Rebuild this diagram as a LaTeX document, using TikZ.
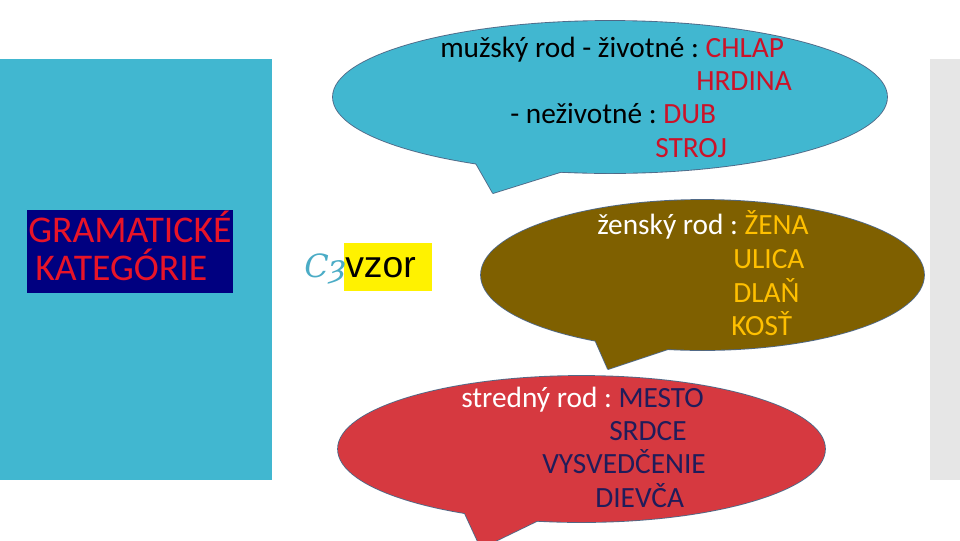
\documentclass[tikz,border=0pt]{standalone}
\usepackage{fontspec}
\setmainfont{Carlito}
\newfontfamily\arialfont{Liberation Sans}
\newfontfamily\bulletfont{DejaVu Serif}
\definecolor{slidecyan}{RGB}{65,183,208}
\definecolor{stripgray}{RGB}{230,230,230}
\definecolor{boxnavy}{RGB}{0,0,128}
\definecolor{titlered}{RGB}{232,20,40}
\definecolor{wordred}{RGB}{204,18,40}
\definecolor{bubblebrown}{RGB}{127,96,0}
\definecolor{wordgold}{RGB}{255,192,0}
\definecolor{bubblered}{RGB}{214,57,64}
\definecolor{wordnavy}{RGB}{32,28,90}
\definecolor{edgeblue}{RGB}{80,105,135}
\definecolor{bulletcyan}{RGB}{75,172,198}
\tikzset{
  bubbleline/.style={draw=edgeblue, line width=1.3pt, line join=round},
  txt/.style={inner sep=0pt, anchor=base west, font=\fontsize{22}{26}\selectfont},
  bigtxt/.style={inner sep=0pt, anchor=base west, font=\fontsize{28.3}{32}\selectfont, text=titlered},
}
\newcommand{\mycallout}[7]{%
  \draw[bubbleline] (#1) ellipse [x radius=#2, y radius=#3];
  \draw[bubbleline] (#4) -- (#5) -- (#6);
  \fill[#7] (#1) ellipse [x radius=#2, y radius=#3];
  \fill[#7] (#4) -- (#5) -- (#6) -- cycle;
}
\begin{document}
\frenchspacing
\begin{tikzpicture}[x=0.75pt,y=-0.75pt]
\useasboundingbox (0,0) rectangle (960,540);
\clip (0,0) rectangle (960,540);
% background panels
\fill[slidecyan] (0,59) rectangle (272,480);
\fill[stripgray] (930,59) rectangle (960,480);
% title box
\fill[boxnavy] (27,210) rectangle (233,293);
\node[bigtxt] (t1) at (28,242) {GRAMATICKÉ};
\node[bigtxt] (t2) at (35,280) {KATEGÓRIE};
% vzor
\fill[yellow] (344,243) rectangle (432,291);
\node[inner sep=0pt, anchor=base west, font=\bulletfont\itshape\fontsize{24}{28}\selectfont, text=bulletcyan] (bul) at (304,277) {Cȝ};
\node[inner sep=0pt, anchor=base west, font=\arialfont\fontsize{28}{32}\selectfont] (vzor) at (345,277) {vzor};
% callouts
\coordinate (c1) at (610,97);
\coordinate (c1a) at (473,158);
\coordinate (c1t) at (493,193);
\coordinate (c1b) at (573,168);
\mycallout{c1}{207.75pt}{57pt}{c1a}{c1t}{c1b}{slidecyan}
\coordinate (c2) at (702.5,275);
\coordinate (c2a) at (593,335);
\coordinate (c2t) at (608,369);
\coordinate (c2b) at (677,346);
\mycallout{c2}{166.1pt}{56.25pt}{c2a}{c2t}{c2b}{bubblebrown}
\coordinate (c3) at (581.5,449);
\coordinate (c3a) at (462,507);
\coordinate (c3t) at (481,548);
\coordinate (c3b) at (547,516);
\mycallout{c3}{182.6pt}{54.75pt}{c3a}{c3t}{c3b}{bubblered}
% top texts
\node[txt] (m1) at (440,57) {mužský rod - životné : \textcolor{wordred}{CHLAP}};
\node[txt, text=wordred] (m2) at (696,90) {HRDINA};
\node[txt] (m3) at (510,123.5) {- neživotné : \textcolor{wordred}{DUB}};
\node[txt, text=wordred] (m4) at (655,157) {STROJ};
% middle texts
\node[txt, text=white] (z1) at (597,234) {ženský rod : \textcolor{wordgold}{ŽENA}};
\node[txt, text=wordgold] (z2) at (733,268) {ULICA};
\node[txt, text=wordgold] (z3) at (733,302) {DLAŇ};
\node[txt, text=wordgold] (z4) at (731,335) {KOSŤ};
% bottom texts
\node[txt, text=white] (s1) at (461,407) {stredný rod : \textcolor{wordnavy}{MESTO}};
\node[txt, text=wordnavy] (s2) at (609,440) {SRDCE};
\node[txt, text=wordnavy] (s3) at (542,473) {VYSVEDČENIE};
\node[txt, text=wordnavy] (s4) at (595,507) {DIEVČA};
\end{tikzpicture}
\end{document}
